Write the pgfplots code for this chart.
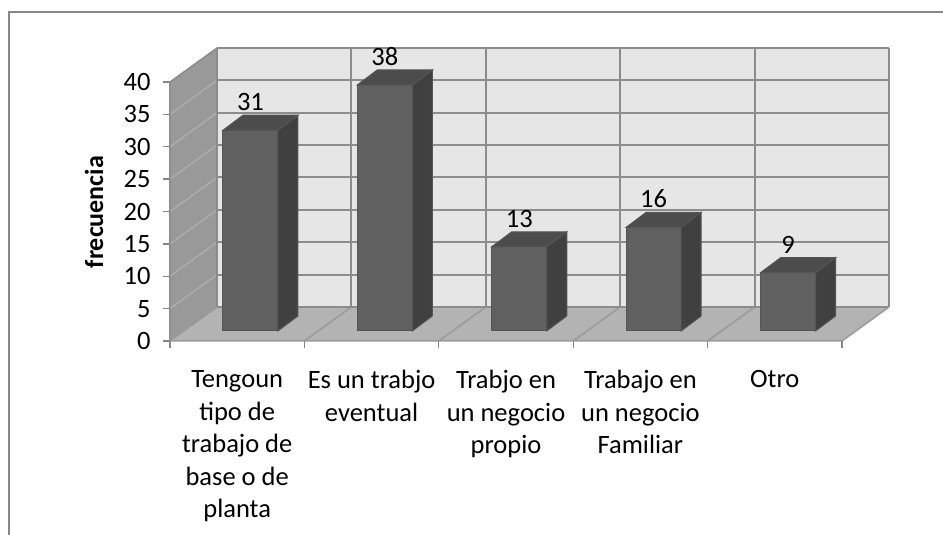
\documentclass[border=0pt]{standalone}
\usepackage{pgfplots}
\pgfplotsset{compat=1.18}
\usepackage{pgfplotstable}
\usepackage{fontspec}
\setmainfont{Carlito}
\definecolor{wallback}{HTML}{E6E6E6}
\definecolor{wallleft}{HTML}{999999}
\definecolor{wallleftline}{HTML}{ABABAB}
\definecolor{floorc}{HTML}{B3B3B3}
\definecolor{floorline}{HTML}{9A9A9A}
\definecolor{gridc}{HTML}{8C8C8C}
\definecolor{barfront}{HTML}{606060}
\definecolor{barside}{HTML}{404040}
\definecolor{bartop}{HTML}{4C4C4C}
\definecolor{baredge}{HTML}{555555}
\definecolor{framec}{HTML}{878787}

\pgfplotstableread{
x v
0 31
1 38
2 13
3 16
4 9
}\datatable

\newcommand\yu{6.475}
\begin{document}
\begin{tikzpicture}
\begin{axis}[
  x=134.4pt, y=6.475pt,
  xmin=0, xmax=5.35, ymin=0, ymax=45.25,
  clip=false,
  axis x line*=bottom, axis y line*=left,
  axis line style={draw=none},
  ytick={0,5,...,40},
  tick align=outside,
  major tick length=7pt,
  tick style={color=framec, line width=1.3pt},
  xtick={0.5,1.5,2.5,3.5,4.5},
  xticklabels={{Tengoun\\tipo de\\trabajo de\\base o de\\planta},{Es un trabjo\\eventual},{Trabjo en\\un negocio\\propio},{Trabajo en\\un negocio\\Familiar},{Otro}},
  x tick style={draw=none},
  x tick label style={align=center, font=\fontsize{26.5}{32.5}\selectfont, anchor=north, yshift=-19pt},
  y tick label style={font=\fontsize{26.5}{30}\selectfont, xshift=-9pt},
  /pgf/number format/assume math mode=true,
  ylabel={frecuencia},
  every axis y label/.style={at={(rel axis cs:-0.1057,0.44)}, rotate=90, anchor=center, font=\fontsize{26}{30}\selectfont\bfseries},
]
\coordinate (O) at (axis cs:0,0);
% back wall
\fill[wallback] (axis cs:0.35,5.25) rectangle (axis cs:5.35,45.25);
% left wall
\fill[wallleft] (axis cs:0,0) -- (axis cs:0,40) -- (axis cs:0.35,45.25) -- (axis cs:0.35,5.25) -- cycle;
% floor
\fill[floorc] (axis cs:0,0) -- (axis cs:5,0) -- (axis cs:5.35,5.25) -- (axis cs:0.35,5.25) -- cycle;
% left wall lines
\pgfplotsinvokeforeach{5,10,...,35}{
  \draw[wallleftline, line width=1.5pt] (axis cs:0,#1) -- ++(47pt,34pt);
}
% floor lines
\pgfplotsinvokeforeach{1,2,3,4}{
  \draw[floorline, line width=1.5pt] (axis cs:#1,0) -- ++(47pt,34pt);
}
% back grid horizontal
\pgfplotsinvokeforeach{0,5,...,40}{
  \draw[gridc, line width=2pt] (axis cs:0.35,#1) ++(0pt,34pt) -- ++(672pt,0pt);
}
% back grid vertical
\pgfplotsinvokeforeach{0,1,...,5}{
  \draw[gridc, line width=2pt] (axis cs:#1,0) ++(47pt,34pt) -- ++(0pt,259pt);
}
% wall and floor edges
\draw[gridc, line width=1.5pt] (axis cs:0,0) -- (axis cs:0,40) -- ++(47pt,34pt);
\draw[floorline, line width=1.5pt] (axis cs:0,0) -- (axis cs:5,0) -- ++(47pt,34pt);
\draw[floorline, line width=1.5pt] (axis cs:0,0) -- ++(47pt,34pt);
% x tick marks
\pgfplotsinvokeforeach{0,1,...,5}{
  \draw[framec, line width=1.3pt] (axis cs:#1,0) -- ++(0pt,-7pt);
}
% bars
\addplot[scatter, only marks, mark=*, mark size=0pt, mark options={draw=none, fill=none},
  visualization depends on={\thisrow{v}\as\val},
  scatter/@pre marker code/.code={%
    \pgfmathsetmacro\h{\val*\yu}%
    \filldraw[fill=barfront, draw=baredge, line width=1pt] (0pt,0pt) rectangle (55pt,-\h pt);
    \filldraw[fill=barside, draw=baredge, line width=1pt] (55pt,0pt) -- (75pt,15pt) -- (75pt,15pt-\h pt) -- (55pt,-\h pt) -- cycle;
    \filldraw[fill=bartop, draw=baredge, line width=1pt] (0pt,0pt) -- (20pt,15pt) -- (75pt,15pt) -- (55pt,0pt) -- cycle;
  },
  scatter/@post marker code/.code={},
] table[x expr=\thisrow{x}+0.394, y expr=\thisrow{v}+1.55] {\datatable};
% value labels
\addplot[draw=none, mark=none, nodes near coords, point meta=explicit symbolic,
  every node near coord/.append style={anchor=base, inner sep=0pt, font=\fontsize{26.5}{30}\selectfont, text=black}]
  table[x expr=\thisrow{x}+0.5986, y expr=\thisrow{v}+4.56, meta=v] {\datatable};
\end{axis}
\begin{scope}[shift={(O)}]
\draw[framec, line width=2pt] (-161pt,-194pt) -- (-161pt,329pt) -- (773pt,329pt);
\pgfresetboundingbox
\path[use as bounding box] (-170pt,-194pt) rectangle (773pt,341pt);
\end{scope}
\end{tikzpicture}
\end{document}
